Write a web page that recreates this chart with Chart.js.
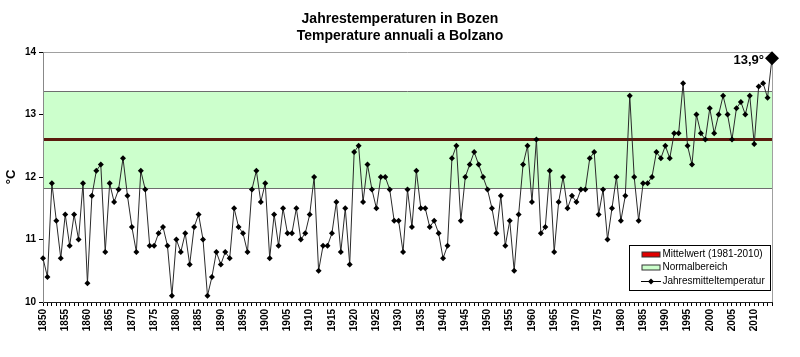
<!DOCTYPE html>
<html><head><meta charset="utf-8">
<script src="https://cdn.jsdelivr.net/npm/chart.js@4"></script>
<style>html,body{margin:0;padding:0;background:#fff}</style>
</head><body>
<canvas id="c" width="800" height="357"></canvas>
<script>
// Annual mean temperature in Bozen/Bolzano, 1850 onward (°C)
const temps = [
  10.7, 10.4, 11.9, 11.3, 10.7, 11.4, 10.9, 11.4, 11.0, 11.9,
  10.3, 11.7, 12.1, 12.2, 10.8, 11.9, 11.6, 11.8, 12.3, 11.7,
  11.2, 10.8, 12.1, 11.8, 10.9, 10.9, 11.1, 11.2, 10.9, 10.1,
  11.0, 10.8, 11.1, 10.6, 11.2, 11.4, 11.0, 10.1, 10.4, 10.8,
  10.6, 10.8, 10.7, 11.5, 11.2, 11.1, 10.8, 11.8, 12.1, 11.6,
  11.9, 10.7, 11.4, 10.9, 11.5, 11.1, 11.1, 11.5, 11.0, 11.1,
  11.4, 12.0, 10.5, 10.9, 10.9, 11.1, 11.6, 10.8, 11.5, 10.6,
  12.4, 12.5, 11.6, 12.2, 11.8, 11.5, 12.0, 12.0, 11.8, 11.3,
  11.3, 10.8, 11.8, 11.2, 12.1, 11.5, 11.5, 11.2, 11.3, 11.1,
  10.7, 10.9, 12.3, 12.5, 11.3, 12.0, 12.2, 12.4, 12.2, 12.0,
  11.8, 11.5, 11.1, 11.7, 10.9, 11.3, 10.5, 11.4, 12.2, 12.5,
  11.6, 12.6, 11.1, 11.2, 12.1, 10.8, 11.6, 12.0, 11.5, 11.7,
  11.6, 11.8, 11.8, 12.3, 12.4, 11.4, 11.8, 11.0, 11.5, 12.0,
  11.3, 11.7, 13.3, 12.0, 11.3, 11.9, 11.9, 12.0, 12.4, 12.3,
  12.5, 12.3, 12.7, 12.7, 13.5, 12.5, 12.2, 13.0, 12.7, 12.6,
  13.1, 12.7, 13.0, 13.3, 13.0, 12.6, 13.1, 13.2, 13.0, 13.3,
  12.53, 13.45, 13.5, 13.27, 13.9
];
const firstYear = 1850;
const years = temps.map((_, i) => String(firstYear + i));
const meanValue = 12.6;      // Mittelwert 1981-2010
const normalLow = 11.83;     // Normalbereich lower bound
const normalHigh = 13.37;    // Normalbereich upper bound
const yTicks = [10, 11, 12, 13, 14];
const titleLines = ['Jahrestemperaturen in Bozen', 'Temperature annuali a Bolzano'];
const yAxisTitle = '°C';
const legendLabels = ['Mittelwert (1981-2010)', 'Normalbereich', 'Jahresmitteltemperatur'];
const lastLabel = '13,9°';

const FAM = 'Arial, "Liberation Sans", sans-serif';

function diamond(ctx, x, y, r) {
  ctx.beginPath();
  ctx.moveTo(x, y - r); ctx.lineTo(x + r, y); ctx.lineTo(x, y + r); ctx.lineTo(x - r, y);
  ctx.closePath(); ctx.fill();
}

const decor = {
  id: 'decor',
  beforeDraw(chart) {
    const {ctx, chartArea: a, scales: {y}} = chart;
    const yt = Math.round(y.getPixelForValue(normalHigh)) + 0.5;
    const yb = Math.round(y.getPixelForValue(normalLow)) + 0.5;
    const ym = y.getPixelForValue(meanValue);
    ctx.save();
    ctx.fillStyle = '#ccffcc';
    ctx.fillRect(a.left, yt, a.right - a.left, yb - yt);
    ctx.strokeStyle = '#6e6e6e'; ctx.lineWidth = 1;
    ctx.beginPath();
    ctx.moveTo(a.left, yt); ctx.lineTo(a.right, yt);
    ctx.moveTo(a.left, yb); ctx.lineTo(a.right, yb);
    ctx.stroke();
    ctx.strokeStyle = '#5a1a0c'; ctx.lineWidth = 3;
    ctx.beginPath(); ctx.moveTo(a.left, ym); ctx.lineTo(a.right, ym); ctx.stroke();
    ctx.strokeStyle = '#a0a0a0'; ctx.lineWidth = 1;
    ctx.beginPath();
    ctx.moveTo(a.left, Math.round(a.top) + 0.5); ctx.lineTo(Math.round(a.right) + 0.5, Math.round(a.top) + 0.5);
    ctx.lineTo(Math.round(a.right) + 0.5, a.bottom);
    ctx.stroke();
    ctx.restore();
  },
  afterDraw(chart) {
    const {ctx, chartArea: a} = chart;
    ctx.save();
    // legend box
    const bx = Math.round(a.right) - 142.5, by = Math.round(a.bottom) - 56.5, bw = 141, bh = 45;
    ctx.fillStyle = '#fff'; ctx.fillRect(bx, by, bw, bh);
    ctx.strokeStyle = '#000'; ctx.lineWidth = 1; ctx.strokeRect(bx, by, bw, bh);
    const sx = bx + 12.5, sw = 18, tx = bx + 33;
    const rows = [by + 9, by + 22, by + 36];
    ctx.fillStyle = '#e00000'; ctx.fillRect(sx, rows[0] - 2.5, sw, 5);
    ctx.strokeStyle = '#333'; ctx.strokeRect(sx, rows[0] - 2.5, sw, 5);
    ctx.fillStyle = '#ccffcc'; ctx.fillRect(sx, rows[1] - 2.5, sw, 5);
    ctx.strokeRect(sx, rows[1] - 2.5, sw, 5);
    ctx.strokeStyle = '#000';
    ctx.beginPath(); ctx.moveTo(sx - 1, rows[2]); ctx.lineTo(sx + sw + 1, rows[2]); ctx.stroke();
    ctx.fillStyle = '#000'; diamond(ctx, sx + sw / 2, rows[2], 3);
    ctx.font = '10px ' + FAM; ctx.textBaseline = 'middle'; ctx.textAlign = 'left';
    legendLabels.forEach((t, i) => ctx.fillText(t, tx, rows[i]));
    // last value annotation
    const meta = chart.getDatasetMeta(0);
    const p = meta.data[meta.data.length - 1];
    ctx.font = 'bold 13px ' + FAM; ctx.textAlign = 'right';
    ctx.fillText(lastLabel, p.x - 8, p.y + 2);
    ctx.restore();
  }
};

new Chart(document.getElementById('c'), {
  type: 'line',
  data: {
    labels: years,
    datasets: [{
      label: legendLabels[2],
      data: temps,
      borderColor: '#2a2a2a',
      borderWidth: 1,
      tension: 0,
      pointStyle: 'rectRot',
      pointRadius: c => c.dataIndex === temps.length - 1 ? 7 : 3,
      pointBackgroundColor: '#000',
      pointBorderColor: '#000',
      pointBorderWidth: 0,
      clip: false
    }]
  },
  options: {
    responsive: false,
    animation: false,
    devicePixelRatio: 1,
    layout: { padding: 0 },
    plugins: {
      legend: { display: false },
      tooltip: { enabled: false },
      title: {
        display: true, text: titleLines, color: '#000',
        font: { size: 14, weight: 'bold', family: FAM, lineHeight: 1.2 },
        padding: { top: 11, bottom: 7.4 }
      }
    },
    scales: {
      x: {
        type: 'category',
        offset: false,
        grid: { drawOnChartArea: false, drawTicks: true, tickLength: 4, tickColor: '#000' },
        border: { color: '#222' },
        ticks: {
          autoSkip: false, maxRotation: 90, minRotation: 90, padding: 3, color: '#000',
          font: { size: 10, weight: 'bold', family: FAM },
          callback(v) { const yr = +this.getLabelForValue(v); return yr % 5 === 0 ? String(yr) : ''; }
        },
        afterFit(s) { s.height = 55; }
      },
      y: {
        min: yTicks[0], max: yTicks[yTicks.length - 1],
        afterBuildTicks(s) { s.ticks = yTicks.map(v => ({ value: v })); },
        grid: { drawOnChartArea: false, drawTicks: true, tickLength: 4, tickColor: '#000' },
        border: { color: '#888' },
        ticks: { color: '#000', padding: 3, font: { size: 10, weight: 'bold', family: FAM } },
        title: { display: true, text: yAxisTitle, color: '#000', font: { size: 13, weight: 'bold', family: FAM }, padding: { top: 4, bottom: 0 } },
        afterFit(s) { s.width = 43; }
      },
      yRight: {
        position: 'right',
        min: yTicks[0], max: yTicks[yTicks.length - 1],
        grid: { display: false },
        border: { display: false },
        ticks: { display: false },
        afterFit(s) { s.width = 28; }
      }
    }
  },
  plugins: [decor]
});
</script>
</body></html>
